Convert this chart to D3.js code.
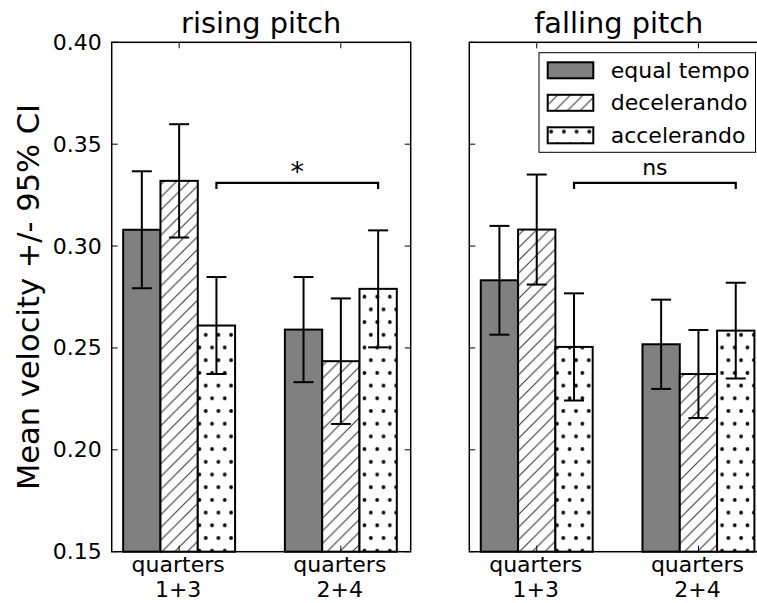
<!DOCTYPE html>
<html>
<head>
<meta charset="utf-8">
<script src="https://cdn.jsdelivr.net/npm/d3@7"></script>
<style>
  html, body { margin: 0; padding: 0; background: #fff; }
  svg { display: block; font-family: "DejaVu Sans", sans-serif; }
</style>
</head>
<body>
<svg id="chart" width="757" height="603"></svg>
<script>
// ---- data ----
const panels = ["rising pitch", "falling pitch"];
const groupLines = [["quarters", "1+3"], ["quarters", "2+4"]];
const conditions = ["equal tempo", "decelerando", "accelerando"];
const yTicks = [0.15, 0.20, 0.25, 0.30, 0.35, 0.40];

// mean velocity per condition, [quarters 1+3, quarters 2+4]
const risingMeans  = [[0.308, 0.259], [0.332, 0.2435], [0.261, 0.279]];
const risingCI     = [[0.0287, 0.0258], [0.0278, 0.0308], [0.0238, 0.0287]];
const fallingMeans = [[0.2832, 0.2518], [0.3081, 0.2372], [0.2505, 0.2585]];
const fallingCI    = [[0.0267, 0.0219], [0.027, 0.0216], [0.0263, 0.0235]];

// significance brackets between the accelerando bars of the two groups
const bracketLabels = ["*", "ns"];
const bracketLevel = [0.331, 0.331];
const bracketDrop = 0.003;

// ---- layout ----
const svg = d3.select("#chart");
const axTop = 42.3, axBottom = 551.7, axWidth = 299;
const axLefts = [111.7, 469.3];
const barWidth = 0.2307;
const fontTick = 22, fontTitle = 28.8;
const fills = ["url(#solid)", "url(#hatch)", "url(#dots)"];

const y = d3.scaleLinear().domain([0.15, 0.40]).range([axBottom, axTop]);
const x = d3.scaleLinear().domain([-0.417, 1.432]).range([0, axWidth]);

// ---- fill patterns ----
const defs = svg.append("defs");
defs.append("pattern").attr("id", "solid")
  .attr("patternUnits", "userSpaceOnUse").attr("width", 10).attr("height", 10)
  .append("rect").attr("width", 10).attr("height", 10).attr("fill", "#808080");

const hs = 12.7;
const hatch = defs.append("pattern").attr("id", "hatch")
  .attr("patternUnits", "userSpaceOnUse").attr("width", hs).attr("height", hs)
  .attr("x", 2).attr("y", 3);
hatch.append("rect").attr("width", hs).attr("height", hs).attr("fill", "#fff");
[[0, hs, hs, 0], [-2, 2, 2, -2], [hs - 2, hs + 2, hs + 2, hs - 2]].forEach(s =>
  hatch.append("line").attr("x1", s[0]).attr("y1", s[1]).attr("x2", s[2]).attr("y2", s[3])
    .attr("stroke", "#333").attr("stroke-width", 1));

const ds = 12.7;
const dots = defs.append("pattern").attr("id", "dots")
  .attr("patternUnits", "userSpaceOnUse").attr("width", ds).attr("height", ds * 2)
  .attr("x", 5.1).attr("y", 4.6);
dots.append("rect").attr("width", ds).attr("height", ds * 2).attr("fill", "#fff");
[[0, 0], [ds, 0], [ds / 2, ds], [0, ds * 2], [ds, ds * 2]].forEach(p =>
  dots.append("circle").attr("cx", p[0]).attr("cy", p[1]).attr("r", 1.9).attr("fill", "#000"));

// ---- panels ----
const allMeans = [risingMeans, fallingMeans];
const allCI = [risingCI, fallingCI];

panels.forEach((title, pi) => {
  const g = svg.append("g").attr("transform", `translate(${axLefts[pi]},0)`);
  const means = allMeans[pi], ci = allCI[pi];

  // bars
  conditions.forEach((c, ci_) => {
    means[ci_].forEach((v, gi) => {
      const x0 = x(gi + (ci_ - 1.5) * barWidth);
      g.append("rect")
        .attr("x", x0).attr("y", y(v))
        .attr("width", x(gi + (ci_ - 0.5) * barWidth) - x0)
        .attr("height", y(0.15) - y(v))
        .attr("fill", fills[ci_])
        .attr("stroke", "#000").attr("stroke-width", 2);
    });
  });

  // error bars
  conditions.forEach((c, ci_) => {
    means[ci_].forEach((v, gi) => {
      const cx = x(gi + (ci_ - 1) * barWidth);
      const lo = y(v - ci[ci_][gi]), hi = y(v + ci[ci_][gi]);
      g.append("line").attr("x1", cx).attr("x2", cx).attr("y1", lo).attr("y2", hi)
        .attr("stroke", "#000").attr("stroke-width", 2);
      [lo, hi].forEach(yy => g.append("line")
        .attr("x1", cx - 10).attr("x2", cx + 10).attr("y1", yy).attr("y2", yy)
        .attr("stroke", "#000").attr("stroke-width", 2));
    });
  });

  // frame
  g.append("rect").attr("x", 0).attr("y", axTop).attr("width", axWidth)
    .attr("height", axBottom - axTop).attr("fill", "none")
    .attr("stroke", "#000").attr("stroke-width", 1.5);

  // y ticks (inward, both sides)
  yTicks.forEach(t => {
    const yy = y(t);
    g.append("line").attr("x1", 0).attr("x2", 6).attr("y1", yy).attr("y2", yy)
      .attr("stroke", "#000").attr("stroke-width", 1);
    g.append("line").attr("x1", axWidth - 6).attr("x2", axWidth).attr("y1", yy).attr("y2", yy)
      .attr("stroke", "#000").attr("stroke-width", 1);
  });
  if (pi === 0) {
    const yAxis = d3.axisLeft(y).tickValues(yTicks).tickFormat(d3.format(".2f"))
      .tickSize(0).tickPadding(10);
    const ya = g.append("g").call(yAxis);
    ya.select(".domain").remove();
    ya.selectAll("text").attr("font-size", fontTick).attr("fill", "#000")
      .attr("font-family", "DejaVu Sans");
  }

  // x ticks (inward, top and bottom) and group labels
  groupLines.forEach((lines, gi) => {
    const xx = x(gi);
    g.append("line").attr("x1", xx).attr("x2", xx).attr("y1", axTop).attr("y2", axTop + 6)
      .attr("stroke", "#000").attr("stroke-width", 1);
    g.append("line").attr("x1", xx).attr("x2", xx).attr("y1", axBottom - 6).attr("y2", axBottom)
      .attr("stroke", "#000").attr("stroke-width", 1);
    lines.forEach((ln, li) => g.append("text")
      .attr("x", xx - 1).attr("y", 572 + li * 25)
      .attr("text-anchor", "middle").attr("font-size", fontTick).text(ln));
  });

  // title
  g.append("text").attr("x", axWidth / 2).attr("y", 33.3)
    .attr("text-anchor", "middle").attr("font-size", fontTitle).text(title);

  // significance bracket
  const bx1 = x(0 + barWidth), bx2 = x(1 + barWidth);
  const by = y(bracketLevel[pi]), byd = y(bracketLevel[pi] - bracketDrop);
  g.append("path")
    .attr("d", `M${bx1},${byd}V${by}H${bx2}V${byd}`)
    .attr("fill", "none").attr("stroke", "#000").attr("stroke-width", 2.2);
  g.append("text").attr("x", (bx1 + bx2) / 2).attr("y", pi === 0 ? 181 : 175)
    .attr("text-anchor", "middle").attr("font-size", pi === 0 ? 27 : fontTick)
    .text(bracketLabels[pi]);
});

// y axis label
svg.append("text")
  .attr("transform", `translate(39,${(axTop + axBottom) / 2}) rotate(-90)`)
  .attr("text-anchor", "middle").attr("font-size", 30.5)
  .text("Mean velocity +/- 95% CI");

// legend (upper right of the second panel)
const leg = svg.append("g");
leg.append("rect").attr("x", 539).attr("y", 52.7).attr("width", 216.5).attr("height", 99.6)
  .attr("fill", "#fff").attr("stroke", "#000").attr("stroke-width", 1);
conditions.forEach((c, i) => {
  const ry = 62.3 + i * 32.5;
  leg.append("rect").attr("x", 547.7).attr("y", ry).attr("width", 45.6).attr("height", 16)
    .attr("fill", fills[i]).attr("stroke", "#000").attr("stroke-width", 2);
  leg.append("text").attr("x", 610.7).attr("y", ry + 15.5)
    .attr("font-size", fontTick).text(c);
});
</script>
</body>
</html>
